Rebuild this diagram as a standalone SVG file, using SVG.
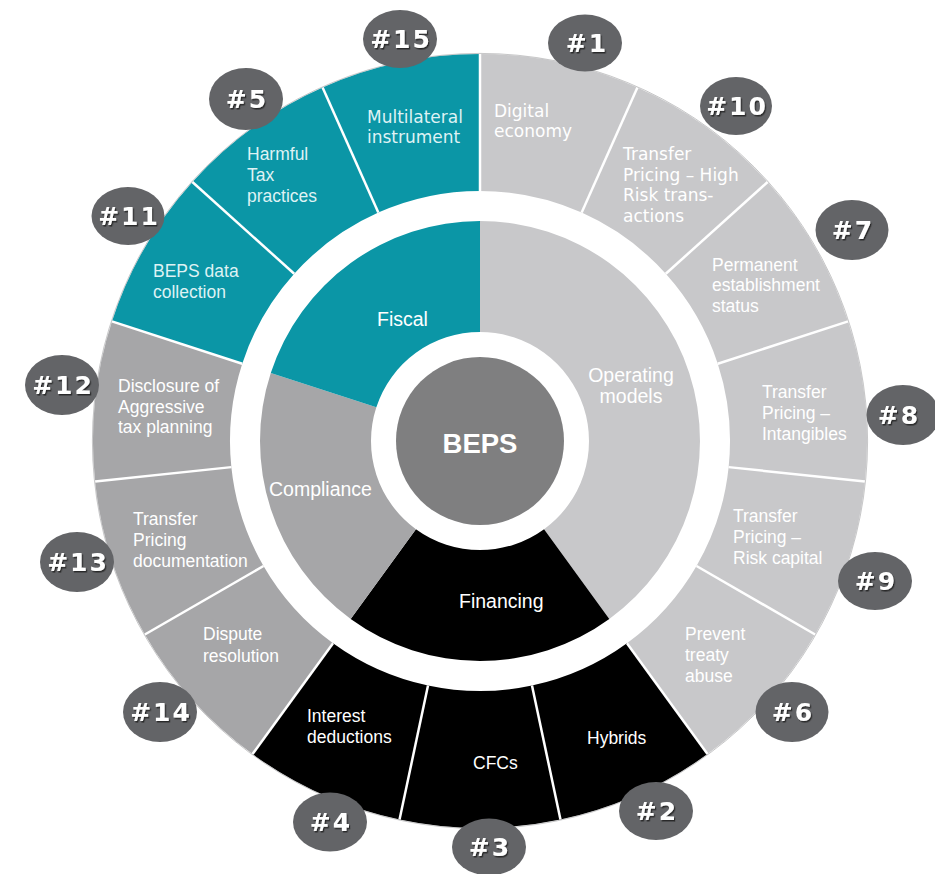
<svg xmlns="http://www.w3.org/2000/svg" width="935" height="874" viewBox="0 0 935 874">
  <style>
    .lt { fill: #c8c8ca; }
    .dk { fill: #a6a6a8; }
    .tl { fill: #0b96a6; }
    .bk { fill: #000000; }
    .lbl { font-family: "Liberation Sans", Arial, sans-serif; font-size: 17.5px; fill: #ffffff; }
    .lblv { font-family: "DejaVu Sans", Verdana, sans-serif; font-size: 17px; fill: #ffffff; }
    .ontl { fill: #dff2f4; }
    .mid { font-family: "Liberation Sans", Arial, sans-serif; font-size: 19.5px; fill: #ffffff; }
    .badge ellipse { fill: #636467; }
    .badge text { font-family: "DejaVu Sans", Verdana, sans-serif; font-weight: bold; font-size: 25px; letter-spacing: 2px; fill: #ffffff; text-anchor: middle; filter: url(#ts); }
    .div line { stroke: #ffffff; stroke-width: 2.5; }
  </style>
  <defs>
    <filter id="ts" x="-20%" y="-30%" width="140%" height="160%">
      <feDropShadow dx="1.2" dy="1.5" stdDeviation="0.6" flood-color="#1e1e1e" flood-opacity="0.85"/>
    </filter>
  </defs>
  <rect width="935" height="874" fill="#ffffff"/>

  <!-- outer ring: fifteen actions, 24 degrees each, clockwise from the top -->
  <g id="a1">
    <path class="lt" d="M480,54 A387,387 0 0 1 637.41,87.46 L581.69,212.61 A250,250 0 0 0 480,191 Z"/>
    <text class="lblv" x="494" y="117">Digital</text>
    <text class="lblv" x="494" y="137">economy</text>
  </g>
  <g id="a10">
    <path class="lt" d="M637.41,87.46 A387,387 0 0 1 767.60,182.05 L665.79,273.72 A250,250 0 0 0 581.69,212.61 Z"/>
    <text class="lblv" x="623" y="160">Transfer</text>
    <text class="lblv" x="623" y="180.7">Pricing – High</text>
    <text class="lblv" x="623" y="201.4">Risk trans-</text>
    <text class="lblv" x="623" y="222">actions</text>
  </g>
  <g id="a7">
    <path class="lt" d="M767.60,182.05 A387,387 0 0 1 848.06,321.41 L717.77,363.74 A250,250 0 0 0 665.79,273.72 Z"/>
    <text class="lbl" x="712" y="270.5">Permanent</text>
    <text class="lbl" x="712" y="291.3">establishment</text>
    <text class="lbl" x="712" y="312">status</text>
  </g>
  <g id="a8">
    <path class="lt" d="M848.06,321.41 A387,387 0 0 1 864.88,481.45 L728.63,467.13 A250,250 0 0 0 717.77,363.74 Z"/>
    <text class="lbl" x="762" y="397.5">Transfer</text>
    <text class="lbl" x="762" y="418.5">Pricing –</text>
    <text class="lbl" x="762" y="439.5">Intangibles</text>
  </g>
  <g id="a9">
    <path class="lt" d="M864.88,481.45 A387,387 0 0 1 815.15,634.5 L696.51,566 A250,250 0 0 0 728.63,467.13 Z"/>
    <text class="lbl" x="733" y="522">Transfer</text>
    <text class="lbl" x="733" y="543">Pricing –</text>
    <text class="lbl" x="733" y="563.5">Risk capital</text>
  </g>
  <g id="a6">
    <path class="lt" d="M815.15,634.5 A387,387 0 0 1 707.47,754.09 L626.95,643.26 A250,250 0 0 0 696.51,566 Z"/>
    <text class="lbl" x="685" y="640">Prevent</text>
    <text class="lbl" x="685" y="661">treaty</text>
    <text class="lbl" x="685" y="682">abuse</text>
  </g>
  <g id="a2">
    <path class="bk" d="M707.47,754.09 A387,387 0 0 1 560.46,819.54 L531.98,685.54 A250,250 0 0 0 626.95,643.26 Z"/>
    <text class="lbl" x="587" y="744">Hybrids</text>
  </g>
  <g id="a3">
    <path class="bk" d="M560.46,819.54 A387,387 0 0 1 399.54,819.54 L428.02,685.54 A250,250 0 0 0 531.98,685.54 Z"/>
    <text class="lbl" x="473" y="769">CFCs</text>
  </g>
  <g id="a4">
    <path class="bk" d="M399.54,819.54 A387,387 0 0 1 252.53,754.09 L333.05,643.26 A250,250 0 0 0 428.02,685.54 Z"/>
    <text class="lbl" x="307" y="722">Interest</text>
    <text class="lbl" x="307" y="743">deductions</text>
  </g>
  <g id="a14">
    <path class="dk" d="M252.53,754.09 A387,387 0 0 1 144.85,634.5 L263.49,566 A250,250 0 0 0 333.05,643.26 Z"/>
    <text class="lbl" x="203" y="640">Dispute</text>
    <text class="lbl" x="203" y="662">resolution</text>
  </g>
  <g id="a13">
    <path class="dk" d="M144.85,634.5 A387,387 0 0 1 95.12,481.45 L231.37,467.13 A250,250 0 0 0 263.49,566 Z"/>
    <text class="lbl" x="133" y="525">Transfer</text>
    <text class="lbl" x="133" y="546">Pricing</text>
    <text class="lbl" x="133" y="567">documentation</text>
  </g>
  <g id="a12">
    <path class="dk" d="M95.12,481.45 A387,387 0 0 1 111.94,321.41 L242.23,363.74 A250,250 0 0 0 231.37,467.13 Z"/>
    <text class="lbl" x="118" y="392">Disclosure of</text>
    <text class="lbl" x="118" y="413">Aggressive</text>
    <text class="lbl" x="118" y="433">tax planning</text>
  </g>
  <g id="a11">
    <path class="tl" d="M111.94,321.41 A387,387 0 0 1 192.40,182.05 L294.21,273.72 A250,250 0 0 0 242.23,363.74 Z"/>
    <text class="lbl ontl" x="153" y="277">BEPS data</text>
    <text class="lbl ontl" x="153" y="298">collection</text>
  </g>
  <g id="a5">
    <path class="tl" d="M192.40,182.05 A387,387 0 0 1 322.59,87.46 L378.31,212.61 A250,250 0 0 0 294.21,273.72 Z"/>
    <text class="lbl ontl" x="247" y="160">Harmful</text>
    <text class="lbl ontl" x="247" y="181">Tax</text>
    <text class="lbl ontl" x="247" y="202">practices</text>
  </g>
  <g id="a15">
    <path class="tl" d="M322.59,87.46 A387,387 0 0 1 480,54 L480,191 A250,250 0 0 0 378.31,212.61 Z"/>
    <text class="lblv ontl" x="367" y="123">Multilateral</text>
    <text class="lblv ontl" x="367" y="143">instrument</text>
  </g>

  <!-- white separators between the actions -->
  <g id="dividers" class="div">
    <line x1="480" y1="191" x2="480" y2="53" stroke-width="4"/>
    <line x1="581.69" y1="212.61" x2="637.41" y2="87.46"/>
    <line x1="665.79" y1="273.72" x2="767.60" y2="182.05"/>
    <line x1="717.77" y1="363.74" x2="848.06" y2="321.41"/>
    <line x1="728.63" y1="467.13" x2="864.88" y2="481.45"/>
    <line x1="696.51" y1="566" x2="815.15" y2="634.5"/>
    <line x1="626.95" y1="643.26" x2="707.47" y2="754.09"/>
    <line x1="531.98" y1="685.54" x2="560.46" y2="819.54"/>
    <line x1="428.02" y1="685.54" x2="399.54" y2="819.54"/>
    <line x1="333.05" y1="643.26" x2="252.53" y2="754.09"/>
    <line x1="263.49" y1="566" x2="144.85" y2="634.5"/>
    <line x1="231.37" y1="467.13" x2="95.12" y2="481.45"/>
    <line x1="242.23" y1="363.74" x2="111.94" y2="321.41"/>
    <line x1="294.21" y1="273.72" x2="192.40" y2="182.05"/>
    <line x1="378.31" y1="212.61" x2="322.59" y2="87.46"/>
  </g>
  <circle cx="480" cy="441" r="387.6" fill="none" stroke="#8a8a8c" stroke-width="0.8" stroke-opacity="0.6"/>

  <!-- middle ring: four themes -->
  <g id="operating">
    <path class="lt" d="M480,221 A220,220 0 0 1 609.31,618.98 L544.07,529.18 A109,109 0 0 0 480,332 Z"/>
    <text class="mid" x="631" y="382" text-anchor="middle">Operating</text>
    <text class="mid" x="631" y="403" text-anchor="middle">models</text>
  </g>
  <g id="financing">
    <path class="bk" d="M609.31,618.98 A220,220 0 0 1 350.69,618.98 L415.93,529.18 A109,109 0 0 0 544.07,529.18 Z"/>
    <text class="mid" x="459" y="608">Financing</text>
  </g>
  <g id="compliance">
    <path class="dk" d="M350.69,618.98 A220,220 0 0 1 270.77,373.02 L376.33,407.32 A109,109 0 0 0 415.93,529.18 Z"/>
    <text class="mid" x="269" y="496">Compliance</text>
  </g>
  <g id="fiscal">
    <path class="tl" d="M270.77,373.02 A220,220 0 0 1 480,221 L480,332 A109,109 0 0 0 376.33,407.32 Z"/>
    <text class="mid ontl" x="377" y="326">Fiscal</text>
  </g>

  <!-- hub -->
  <g id="beps">
    <circle cx="480" cy="441" r="84" fill="#7f7f80"/>
    <text x="480" y="453" text-anchor="middle" font-family="'Liberation Sans', Arial, sans-serif" font-weight="bold" font-size="27.5" fill="#ffffff">BEPS</text>
  </g>

  <!-- action number badges -->
  <g id="badges">
    <g id="b15" class="badge"><ellipse cx="400" cy="39" rx="37" ry="29"/><text x="401" y="48">#15</text></g>
    <g id="b1" class="badge"><ellipse cx="585" cy="43" rx="37" ry="28.5"/><text x="587" y="52">#1</text></g>
    <g id="b10" class="badge"><ellipse cx="736" cy="106" rx="36" ry="29"/><text x="737" y="115">#10</text></g>
    <g id="b7" class="badge"><ellipse cx="852" cy="230" rx="36.5" ry="30"/><text x="853" y="239">#7</text></g>
    <g id="b8" class="badge"><ellipse cx="903" cy="415" rx="36.5" ry="30"/><text x="899" y="424">#8</text></g>
    <g id="b9" class="badge"><ellipse cx="875" cy="581" rx="37" ry="29"/><text x="876" y="590">#9</text></g>
    <g id="b6" class="badge"><ellipse cx="792" cy="712" rx="36.5" ry="30"/><text x="793" y="721">#6</text></g>
    <g id="b2" class="badge"><ellipse cx="656" cy="811" rx="37" ry="29"/><text x="657" y="820">#2</text></g>
    <g id="b3" class="badge"><ellipse cx="489" cy="847" rx="37" ry="28.5"/><text x="490" y="856">#3</text></g>
    <g id="b4" class="badge"><ellipse cx="330" cy="822" rx="37" ry="29.5"/><text x="331" y="831">#4</text></g>
    <g id="b14" class="badge"><ellipse cx="160" cy="712" rx="37" ry="30"/><text x="161" y="721">#14</text></g>
    <g id="b13" class="badge"><ellipse cx="77" cy="562" rx="37" ry="30"/><text x="78" y="571">#13</text></g>
    <g id="b12" class="badge"><ellipse cx="62" cy="385" rx="37" ry="30"/><text x="63" y="394">#12</text></g>
    <g id="b11" class="badge"><ellipse cx="128" cy="216" rx="36.5" ry="29"/><text x="129" y="225">#11</text></g>
    <g id="b5" class="badge"><ellipse cx="246" cy="99" rx="37" ry="31"/><text x="247" y="108">#5</text></g>
  </g>
</svg>
